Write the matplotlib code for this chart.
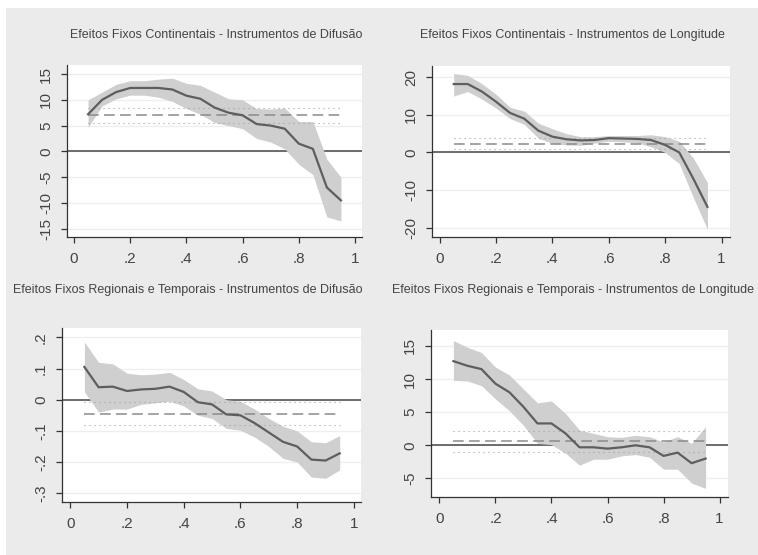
import matplotlib
matplotlib.use("Agg")
import matplotlib.pyplot as plt
import numpy as np

plt.rcParams['font.family'] = ['Liberation Sans', 'DejaVu Sans']

# quantis
q = [0.05, 0.10, 0.15, 0.20, 0.25, 0.30, 0.35, 0.40, 0.45, 0.50,
     0.55, 0.60, 0.65, 0.70, 0.75, 0.80, 0.85, 0.90, 0.95]

# continentais - difusao
cd_est = [7.2, 10.0, 11.5, 12.3, 12.3, 12.3, 12.0, 10.8, 10.2, 8.5,
          7.5, 7.0, 5.3, 5.0, 4.4, 1.5, 0.5, -7.0, -9.5]
cd_hi = [10.0, 11.5, 13.0, 13.7, 13.7, 14.0, 14.2, 13.2, 12.8, 11.5,
         10.2, 10.0, 8.3, 8.2, 8.4, 5.8, 5.8, -1.5, -5.0]
cd_lo = [4.7, 8.8, 10.2, 10.9, 10.9, 10.5, 9.7, 8.3, 7.2, 5.6,
         5.0, 4.4, 2.5, 1.8, 0.5, -2.5, -4.5, -12.7, -13.5]
cd_ols = [7.0, 8.4, 5.6]

# continentais - longitude
cl_est = [18.2, 18.2, 16.2, 13.5, 10.5, 9.0, 5.8, 4.2, 3.5, 3.2,
          3.3, 3.8, 3.7, 3.6, 3.3, 2.0, 0.0, -7.0, -14.5]
cl_hi = [21.0, 20.5, 18.3, 15.5, 12.0, 11.0, 7.8, 6.3, 5.0, 4.2,
         4.2, 4.5, 4.5, 4.5, 4.7, 4.2, 3.0, -1.5, -8.0]
cl_lo = [15.0, 16.2, 14.2, 11.8, 9.0, 7.5, 3.8, 2.4, 2.0, 1.9,
         2.5, 3.0, 2.8, 2.6, 1.5, 0.0, -3.0, -12.0, -20.5]
cl_ols = [2.3, 3.8, 0.8]

# regionais e temporais - difusao
rd_est = [0.105, 0.040, 0.042, 0.028, 0.033, 0.035, 0.042, 0.025, -0.008, -0.015,
          -0.047, -0.050, -0.075, -0.105, -0.135, -0.150, -0.192, -0.195, -0.172]
rd_hi = [0.185, 0.120, 0.115, 0.085, 0.080, 0.082, 0.088, 0.065, 0.035, 0.028,
         0.000, -0.005, -0.030, -0.060, -0.085, -0.100, -0.135, -0.138, -0.115]
rd_lo = [0.025, -0.040, -0.030, -0.030, -0.015, -0.010, -0.005, -0.020, -0.050, -0.060,
         -0.092, -0.098, -0.120, -0.150, -0.188, -0.200, -0.248, -0.252, -0.225]
rd_ols = [-0.045, -0.008, -0.082]

# regionais e temporais - longitude
rl_est = [12.7, 12.0, 11.5, 9.3, 8.0, 5.8, 3.3, 3.3, 1.8, -0.3,
          -0.3, -0.5, -0.3, 0.0, -0.3, -1.6, -1.1, -2.7, -2.0]
rl_hi = [15.8, 14.8, 14.0, 11.8, 10.6, 8.5, 6.4, 6.7, 4.8, 2.3,
         1.8, 1.3, 1.2, 1.5, 1.3, 0.5, 1.3, 0.3, 2.8]
rl_lo = [9.8, 9.7, 9.0, 7.0, 5.2, 3.0, 0.3, 0.1, -1.2, -3.0,
         -2.1, -2.1, -1.6, -1.4, -1.8, -3.6, -3.6, -5.7, -6.5]
rl_ols = [0.7, 2.2, -1.0]

titulos = ["Efeitos Fixos Continentais - Instrumentos de Difusão",
           "Efeitos Fixos Continentais - Instrumentos de Longitude",
           "Efeitos Fixos Regionais e Temporais - Instrumentos de Difusão",
           "Efeitos Fixos Regionais e Temporais - Instrumentos de Longitude"]

xticks = [0, 0.2, 0.4, 0.6, 0.8, 1]
xlabels = ["0", ".2", ".4", ".6", ".8", "1"]

W, H = 758, 555
fig = plt.figure(figsize=(W / 100, H / 100), dpi=100)
fig.patch.set_facecolor('white')
# fundo cinza do grafico
fig.patches.append(plt.Rectangle((6 / W, 0), 1, 1 - 8 / H, transform=fig.transFigure,
                                 facecolor='#ebebeb', edgecolor='none', zorder=-10))

paineis = [
    # (left, right, top, bottom px), xlim, ylim, yticks, ylabels, dados, titulo (x, y)
    ((67, 362, 65, 237), (-0.025, 1.025), (-16.6, 16.75),
     [-15, -10, -5, 0, 5, 10, 15], ["-15", "-10", "-5", "0", "5", "10", "15"],
     (cd_est, cd_hi, cd_lo, cd_ols), (216, 35)),
    ((432, 730, 66, 237), (-0.027, 1.03), (-22.5, 23.0),
     [-20, -10, 0, 10, 20], ["-20", "-10", "0", "10", "20"],
     (cl_est, cl_hi, cl_lo, cl_ols), (572, 35)),
    ((62, 361, 328, 502), (-0.029, 1.025), (-0.328, 0.23),
     [-0.3, -0.2, -0.1, 0, 0.1, 0.2], ["-.3", "-.2", "-.1", "0", ".1", ".2"],
     (rd_est, rd_hi, rd_lo, rd_ols), (188, 290)),
    ((431, 728, 330, 497), (-0.03, 1.03), (-7.8, 17.4),
     [-5, 0, 5, 10, 15], ["-5", "0", "5", "10", "15"],
     (rl_est, rl_hi, rl_lo, rl_ols), (573, 290)),
]

for i, (box, xl, yl, yt, ylab, dados, tpos) in enumerate(paineis):
    l, r, t, b = box
    ax = fig.add_axes([l / W, 1 - b / H, (r - l) / W, (b - t) / H])
    ax.set_facecolor('white')
    est, hi, lo, ols = dados

    ax.set_xlim(*xl)
    ax.set_ylim(*yl)
    for y in yt:
        ax.axhline(y, color='#eeeeee', lw=0.9, zorder=0)
    ax.axhline(0, color='#555555', lw=1.2, zorder=1)

    ax.fill_between(q, lo, hi, color='#cfcfcf', lw=0, zorder=2)
    ax.plot([q[0], q[-1]], [ols[0], ols[0]], color='#8a8a8a', lw=1.1,
            dashes=(7, 3.5), zorder=3)
    for v in ols[1:]:
        ax.plot([q[0], q[-1]], [v, v], color='#a0a0a0', lw=0.8,
                dashes=(1, 3.5), zorder=3)
    ax.plot(q, est, color='#5e5e5e', lw=1.6, zorder=4)

    ax.set_xticks(xticks)
    ax.set_xticklabels(xlabels)
    ax.set_yticks(yt)
    ax.set_yticklabels(ylab, rotation=90, va='center')
    ax.tick_params(axis='both', colors='#333333', labelcolor='#444444',
                   labelsize=11, length=4, width=0.9, direction='out')
    ax.tick_params(axis='x', pad=7)
    ax.tick_params(axis='y', pad=6)
    for s in ['top', 'right']:
        ax.spines[s].set_visible(False)
    for s in ['left', 'bottom']:
        ax.spines[s].set_color('#333333')
        ax.spines[s].set_linewidth(0.9)

    fig.text(tpos[0] / W, 1 - tpos[1] / H, titulos[i], ha='center', va='center',
             fontsize=9, color='#444444')

fig.savefig("out.png", dpi=100, facecolor=fig.get_facecolor())
